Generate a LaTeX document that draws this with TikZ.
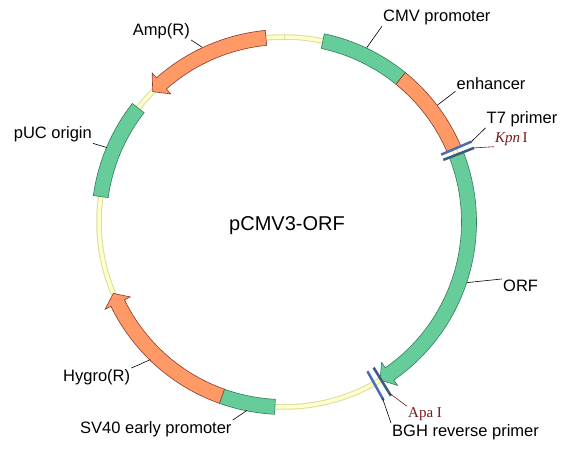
\documentclass[tikz,border=0pt]{standalone}
\usepackage{fontspec}
\setmainfont{Liberation Sans}
\newfontfamily\sitefont{Liberation Serif}
\usetikzlibrary{calc}
\definecolor{Backbone}{HTML}{FFFFCC}
\definecolor{BackboneEdge}{HTML}{DCDC9E}
\definecolor{Promo}{HTML}{66CC99}
\definecolor{PromoEdge}{HTML}{2F7F5A}
\definecolor{Gene}{HTML}{FF9966}
\definecolor{GeneEdge}{HTML}{8B3A2A}
\definecolor{Primer}{HTML}{4A6DB3}
\definecolor{Site}{HTML}{3A5A85}
\definecolor{SiteText}{HTML}{7A1A1A}
\tikzset{
  greenband/.style={draw=PromoEdge,fill=Promo,line width=0.6pt},
  orangeband/.style={draw=GeneEdge,fill=Gene,line width=0.6pt},
  primermark/.style={draw=Primer,line width=2.5pt},
  sitemark/.style={draw=Site,line width=2.5pt},
  featlabel/.style={font=\fontsize{16.5}{19}\selectfont,text=black,inner sep=1pt},
  sitelabel/.style={font=\sitefont\fontsize{15}{17}\selectfont,text=SiteText,inner sep=1pt},
  leader/.style={draw=black,line width=0.6pt},
  siteleader/.style={draw=SiteText,line width=0.6pt}
}
% feature band: start angle, end angle, style
\newcommand{\featband}[3]{\draw[#3] (#1:192.5) arc[start angle=#1,end angle=#2,radius=192.5] -- (#2:177.5) arc[start angle=#2,end angle=#1,radius=177.5] -- cycle;}
% feature arrow: start angle, head base angle, tip angle, style
\newcommand{\featarrow}[4]{\draw[#4] (#1:192.5) arc[start angle=#1,end angle=#2,radius=192.5] -- (#2:199) -- (#3:185) -- (#2:171) -- (#2:177.5) arc[start angle=#2,end angle=#1,radius=177.5] -- cycle;}
% site / primer tick: angle, style
\newcommand{\sitetick}[2]{\draw[#2] (#1:171) -- (#1:204);}

\begin{document}
\begin{tikzpicture}[x=1pt,y=1pt]
  \fill[white] (0,0) rectangle (566,450);
  \useasboundingbox (0,0) rectangle (566,450);

  \begin{scope}[shift={(284,228)}]
    % backbone
    \draw[BackboneEdge,line width=5.5pt] (0,0) circle[radius=185];
    \draw[Backbone,line width=3.5pt] (0,0) circle[radius=185];
    \draw[BackboneEdge,line width=0.8pt] (90:182.2) -- (90:187.8);

    % features
    \featband{77.9}{50.9}{greenband}
    \featband{50.9}{23.2}{orangeband}
    \featarrow{21.3}{-55.2}{-58.7}{greenband}
    \featband{-92.8}{-109.6}{greenband}
    \featarrow{-109.6}{-154}{-157.3}{orangeband}
    \featband{142}{172.1}{greenband}
    \featarrow{95.6}{131.5}{135.2}{orangeband}

    % primers and sites
    \sitetick{23.2}{primermark}
    \sitetick{21.3}{sitemark}
    \sitetick{-60.8}{primermark}
    \sitetick{-58.4}{sitemark}

    \coordinate (cmvpt) at (64.6:193);
    \coordinate (enhpt) at (37.3:193);
    \coordinate (t7pt) at (23.2:204);
    \coordinate (kpnpt) at (21.3:204);
    \coordinate (orfpt) at (-18.3:193);
    \coordinate (apapt) at (-58.4:201);
    \coordinate (bghpt) at (-60.8:202);
    \coordinate (sv40pt) at (-101.1:192);
    \coordinate (hygpt) at (225.8:192);
    \coordinate (pucpt) at (157.2:192);
    \coordinate (amppt) at (115.1:193);
  \end{scope}

  \node[font=\fontsize{20}{24}\selectfont] (title) at (287,224) {pCMV3-ORF};

  \node[featlabel,anchor=west] (cmvlab) at (382,432.5) {CMV promoter};
  \node[featlabel,anchor=west] (enhlab) at (455.5,366) {enhancer};
  \node[featlabel,anchor=west] (t7lab) at (485.5,331) {T7 primer};
  \node[sitelabel,anchor=west] (kpnlab) at (494,311) {\textit{Kpn}\,I};
  \node[featlabel,anchor=west] (orflab) at (502,164) {ORF};
  \node[sitelabel,anchor=west] (apalab) at (407,36) {Apa I};
  \node[featlabel,anchor=west] (bghlab) at (391,18) {BGH reverse primer};
  \node[featlabel,anchor=west] (sv40lab) at (79,21) {SV40 early promoter};
  \node[featlabel,anchor=west] (hyglab) at (62,73) {Hygro(R)};
  \node[featlabel,anchor=east] (puclab) at (93,315.5) {pUC origin};
  \node[featlabel,anchor=east] (amplab) at (191,419) {Amp(R)};

  \draw[leader] (cmvpt) -- (cmvlab.south west);
  \draw[leader] (enhpt) -- (enhlab.south west);
  \draw[leader] (t7pt) -- (t7lab.south west);
  \draw[siteleader] (kpnpt) -- (kpnlab.south west);
  \draw[leader] (orfpt) -- (orflab.north west);
  \draw[siteleader] (apapt) -- (apalab.north west);
  \draw[leader] (bghpt) -- (bghlab.north west);
  \draw[leader] (sv40pt) -- (sv40lab.north east);
  \draw[leader] (hygpt) -- (hyglab.north east);
  \draw[leader] (pucpt) -- (puclab.south east);
  \draw[leader] (amppt) -- (amplab.south east);
\end{tikzpicture}
\end{document}
